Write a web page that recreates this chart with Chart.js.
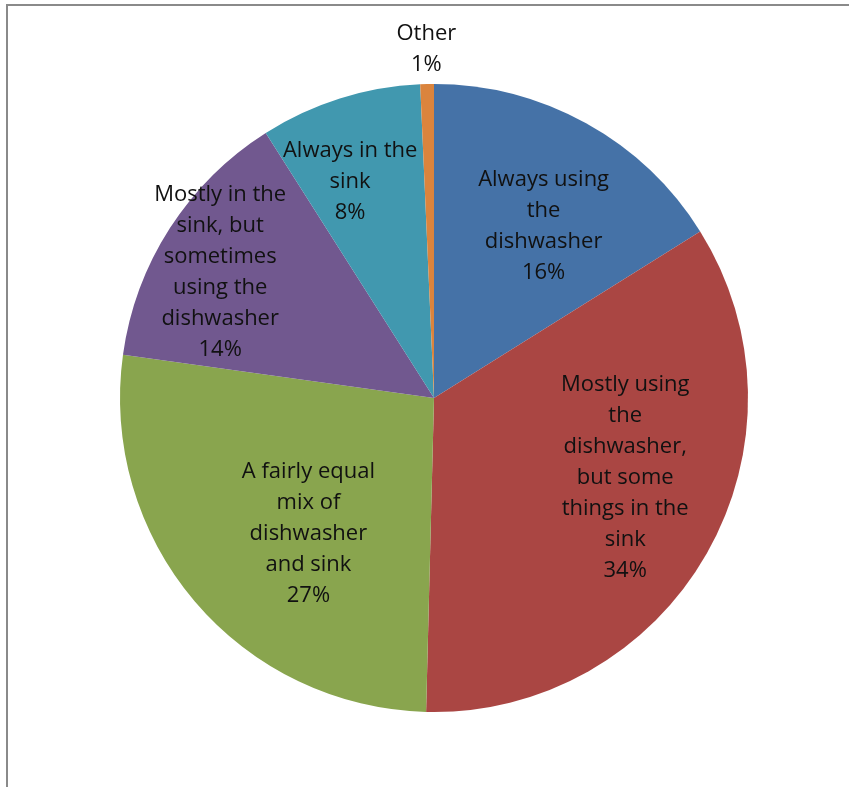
<!DOCTYPE html>
<html>
<head>
<meta charset="utf-8">
<script src="https://cdn.jsdelivr.net/npm/chart.js@4"></script>
<style>
  html, body { margin: 0; padding: 0; background: #fff; overflow: hidden; }
  #frame {
    position: absolute; left: 6px; top: 4px; width: 900px; height: 900px;
    border-left: 2px solid #8a8a8a; border-top: 2px solid #8a8a8a;
  }
  #wrap { position: absolute; left: 0; top: 0; width: 849px; height: 787px; }
</style>
</head>
<body>
<div id="frame"></div>
<div id="wrap"><canvas id="chart1"></canvas></div>
<script>
// categories and shares (percent of respondents)
const categories = [
  "Always using the dishwasher",
  "Mostly using the dishwasher, but some things in the sink",
  "A fairly equal mix of dishwasher and sink",
  "Mostly in the sink, but sometimes using the dishwasher",
  "Always in the sink",
  "Other"
];
const shares = [16.1, 34.3, 26.8, 13.8, 8.3, 0.7];
// how each label is wrapped on the chart
const labelLines = [
  ["Always using", "the", "dishwasher"],
  ["Mostly using", "the", "dishwasher,", "but some", "things in the", "sink"],
  ["A fairly equal", "mix of", "dishwasher", "and sink"],
  ["Mostly in the", "sink, but", "sometimes", "using the", "dishwasher"],
  ["Always in the", "sink"],
  ["Other"]
];
const colors = ["#4572A7", "#AA4643", "#89A54E", "#71588F", "#4198AF", "#DB843D"];

// label placement: fraction of the radius and small angle shift (degrees)
const labelPlace = [
  { r: 0.65, shift: 3.5 },
  { r: 0.66, shift: -7 },
  { r: 0.59, shift: -7 },
  { r: 0.79, shift: -2.3 },
  { r: 0.74, shift: -3.7 },
  { r: 1.11, shift: 0 }
];

const sliceLabels = {
  id: "sliceLabels",
  afterDatasetsDraw(chart) {
    const ctx = chart.ctx;
    const meta = chart.getDatasetMeta(0);
    const total = shares.reduce((a, b) => a + b, 0);
    ctx.save();
    ctx.font = "22px 'Open Sans'";
    ctx.fillStyle = "#111";
    ctx.textAlign = "center";
    ctx.textBaseline = "middle";
    const lh = 31;
    meta.data.forEach((arc, i) => {
      const p = arc.getProps(["x", "y", "startAngle", "endAngle", "outerRadius"], true);
      const mid = (p.startAngle + p.endAngle) / 2 + labelPlace[i].shift * Math.PI / 180;
      const rr = p.outerRadius * labelPlace[i].r;
      const cx = p.x + Math.cos(mid) * rr;
      const cy = p.y + Math.sin(mid) * rr;
      const lines = labelLines[i].concat([Math.round(shares[i] / total * 100) + "%"]);
      const y0 = cy - (lines.length - 1) * lh / 2;
      lines.forEach((t, k) => ctx.fillText(t, cx, y0 + k * lh));
    });
    ctx.restore();
  }
};

const ctx1 = document.getElementById("chart1").getContext("2d");
new Chart(ctx1, {
  type: "pie",
  data: {
    labels: categories,
    datasets: [
      {
        data: shares,
        backgroundColor: colors,
        borderWidth: 0,
      },
    ],
  },
  options: {
    responsive: true,
    maintainAspectRatio: false,
    animation: false,
    layout: {
      padding: { left: 120, right: 101, top: 84, bottom: 75 },
    },
    plugins: {
      legend: { display: false },
      tooltip: { enabled: false },
    },
  },
  plugins: [sliceLabels],
});
</script>
</body>
</html>
